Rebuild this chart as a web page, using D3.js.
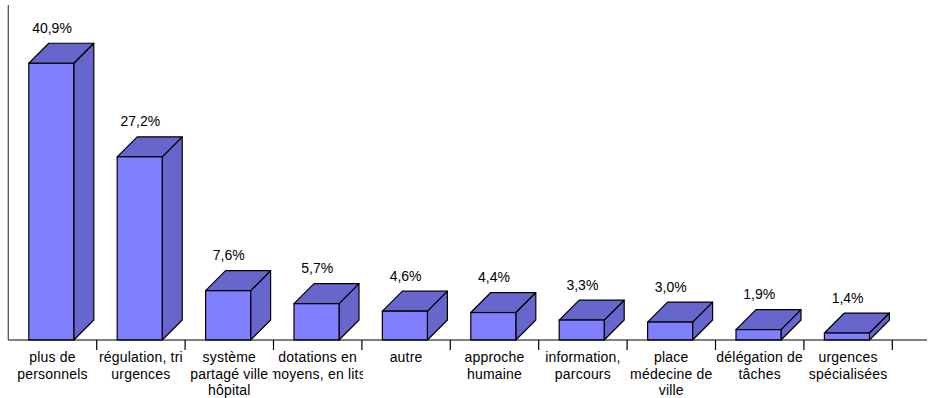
<!DOCTYPE html>
<html>
<head>
<meta charset="utf-8">
<script src="https://cdn.jsdelivr.net/npm/d3@7"></script>
<style>
  html, body { margin: 0; padding: 0; background: #fff; }
  svg { display: block; }
  text { font-family: "Liberation Sans", Arial, sans-serif; fill: #000; }
</style>
</head>
<body>
<svg id="chart" width="929" height="398"></svg>
<script>
// Category names (line breaks as they appear under the axis)
const categories = [
  "plus de\npersonnels",
  "régulation, tri\nurgences",
  "système\npartagé ville\nhôpital",
  "dotations en\nmoyens, en lits",
  "autre",
  "approche\nhumaine",
  "information,\nparcours",
  "place\nmédecine de\nville",
  "délégation de\ntâches",
  "urgences\nspécialisées"
];
// Share of answers, in percent
const values = [40.9, 27.2, 7.6, 5.7, 4.6, 4.4, 3.3, 3.0, 1.9, 1.4];
// Printed value labels
const valueLabels = ["40,9%", "27,2%", "7,6%", "5,7%", "4,6%", "4,4%", "3,3%", "3,0%", "1,9%", "1,4%"];

const svg = d3.select("#chart");

const axisLeft = 8.3, axisRight = 892.3, axisEnd = 927;
const floorY = 340;
const depth = 20;          // oblique offset of the 3-D boxes
const faceOffset = 20.5, faceWidth = 45;

const x = d3.scaleBand().domain(d3.range(categories.length)).range([axisLeft, axisRight]).padding(0);
const y = d3.scaleLinear().domain([0, 50]).range([342.6, 1.1]);

// vertical axis
svg.append("line")
  .attr("x1", axisLeft).attr("x2", axisLeft)
  .attr("y1", 5).attr("y2", floorY)
  .attr("stroke", "#555").attr("stroke-width", 1.3);

// bars as oblique boxes
const bars = svg.append("g").selectAll("g").data(values).join("g");
bars.each(function (v, i) {
  const g = d3.select(this);
  const x0 = x(i) + faceOffset, x1 = x0 + faceWidth;
  const top = y(v), bot = floorY;
  // side face
  g.append("path")
    .attr("d", `M${x1},${top}L${x1 + depth},${top - depth}L${x1 + depth},${bot - depth}L${x1},${bot}Z`)
    .attr("fill", "#6666CC").attr("stroke", "#000").attr("stroke-width", 1.2).attr("stroke-linejoin", "round");
  // top face
  g.append("path")
    .attr("d", `M${x0},${top}L${x0 + depth},${top - depth}L${x1 + depth},${top - depth}L${x1},${top}Z`)
    .attr("fill", "#6666CC").attr("stroke", "#000").attr("stroke-width", 1.2).attr("stroke-linejoin", "round");
  // front face
  g.append("rect")
    .attr("x", x0).attr("y", top).attr("width", faceWidth).attr("height", bot - top)
    .attr("fill", "#8080FF").attr("stroke", "#000").attr("stroke-width", 1.2);
});

// value labels above each box
svg.append("g").selectAll("text").data(values).join("text")
  .attr("x", (d, i) => x(i) + x.bandwidth() / 2 - 0.5)
  .attr("y", d => y(d) - depth - 10.5)
  .attr("text-anchor", "middle")
  .attr("font-size", 14)
  .text((d, i) => valueLabels[i]);

// category axis line and ticks
svg.append("line")
  .attr("x1", axisLeft).attr("x2", axisEnd)
  .attr("y1", floorY).attr("y2", floorY)
  .attr("stroke", "#000").attr("stroke-width", 1.2);
svg.append("g").selectAll("line").data(d3.range(categories.length)).join("line")
  .attr("x1", i => x(i) + x.bandwidth()).attr("x2", i => x(i) + x.bandwidth())
  .attr("y1", floorY).attr("y2", floorY + 10)
  .attr("stroke", "#000").attr("stroke-width", 1.2);

// category labels, clipped to their slot
const defs = svg.append("defs");
categories.forEach((c, i) => {
  defs.append("clipPath").attr("id", "slot" + i)
    .append("rect")
    .attr("x", x(i) - 1).attr("y", floorY)
    .attr("width", x.bandwidth() + 2).attr("height", 60);
});
const labels = svg.append("g").selectAll("text").data(categories).join("text")
  .attr("clip-path", (d, i) => `url(#slot${i})`)
  .attr("text-anchor", "middle")
  .attr("font-size", 14)
  .attr("letter-spacing", 0.2);
labels.each(function (c, i) {
  const t = d3.select(this);
  c.split("\n").forEach((line, k) => {
    t.append("tspan")
      .attr("x", x(i) + x.bandwidth() / 2)
      .attr("y", 362 + k * 16.5)
      .text(line);
  });
});
</script>
</body>
</html>
